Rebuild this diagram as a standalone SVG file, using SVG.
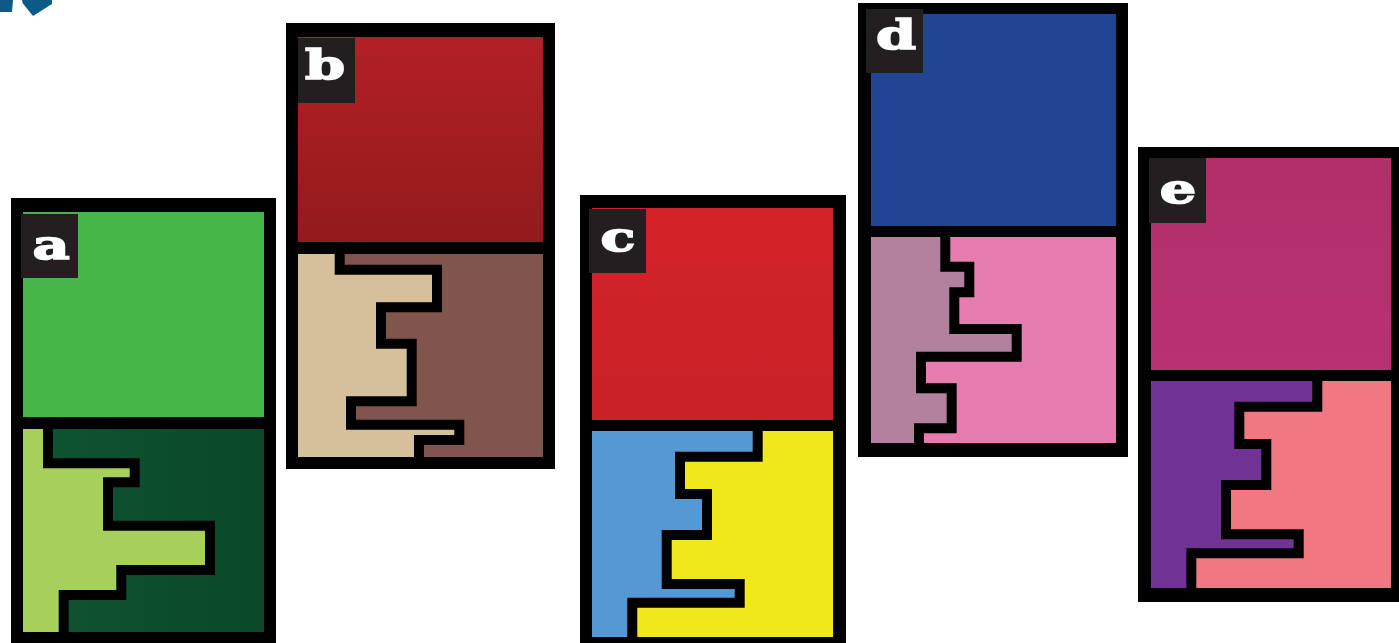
<svg xmlns="http://www.w3.org/2000/svg" width="1399" height="643" viewBox="0 0 1399 643">
  <defs>
    <style>
      .frame { fill: #000000; }
      .stair { fill: none; stroke: #000000; stroke-width: 10; stroke-linejoin: miter; stroke-linecap: butt; }
      .tag { fill: #231f20; }
      .letter { font-family: "DejaVu Serif", "Liberation Serif", serif; font-weight: bold; font-size: 41px; fill: #ffffff; stroke: #ffffff; stroke-width: 1.6; text-anchor: middle; }
    </style>
    <linearGradient id="gRedB" x1="0" y1="0" x2="0" y2="1">
      <stop offset="0" stop-color="#b22026"/>
      <stop offset="1" stop-color="#931a1e"/>
    </linearGradient>
    <linearGradient id="gDarkGreen" x1="0" y1="0" x2="1" y2="0">
      <stop offset="0" stop-color="#105434"/>
      <stop offset="1" stop-color="#0a4829"/>
    </linearGradient>
    <linearGradient id="gRedC" x1="0" y1="0" x2="0" y2="1">
      <stop offset="0" stop-color="#d32328"/>
      <stop offset="1" stop-color="#c92128"/>
    </linearGradient>
    <linearGradient id="gMag" x1="0" y1="0" x2="0" y2="1">
      <stop offset="0" stop-color="#b0306a"/>
      <stop offset="1" stop-color="#b93073"/>
    </linearGradient>
  </defs>

  <g id="corner-mark" fill="#0d5a86">
    <polygon points="0,0 13,0 12,12 0,12"/>
    <polygon points="22,0 52,0 52,4 33,16 22.7,3.3"/>
  </g>

  <g id="panel-a">
    <rect class="frame" x="11" y="198" width="265" height="450"/>
    <rect x="23" y="212" width="241" height="205" fill="#46b649"/>
    <rect x="23" y="429" width="241" height="203" fill="url(#gDarkGreen)"/>
    <polygon fill="#a6cf5c" points="23,429 48,429 48,463.3 134.7,463.3 134.7,482.3 108,482.3 108,525.7 210,525.7 210,570 121.3,570 121.3,595 63.7,595 63.7,632 23,632"/>
    <polyline class="stair" points="48,426 48,463.3 134.7,463.3 134.7,482.3 108,482.3 108,525.7 210,525.7 210,570 121.3,570 121.3,595 63.7,595 63.7,635"/>
    <rect class="tag" x="21" y="214" width="57" height="64"/>
    <text class="letter" transform="translate(51,259) scale(1.4,1)">a</text>
  </g>

  <g id="panel-b">
    <rect class="frame" x="286" y="23" width="269" height="446"/>
    <rect x="298" y="37" width="245" height="205" fill="url(#gRedB)"/>
    <rect x="298" y="254" width="245" height="203" fill="#80554d"/>
    <polygon fill="#d6c09b" points="298,254 339.7,254 339.7,269.7 437,269.7 437,307.3 381,307.3 381,343.7 411.7,343.7 411.7,401.3 351,401.3 351,424.7 459.3,424.7 459.3,440 419,440 419,457 298,457"/>
    <polyline class="stair" points="339.7,251 339.7,269.7 437,269.7 437,307.3 381,307.3 381,343.7 411.7,343.7 411.7,401.3 351,401.3 351,424.7 459.3,424.7 459.3,440 419,440 419,460"/>
    <rect class="tag" x="298" y="38" width="57" height="65"/>
    <text class="letter" transform="translate(325,79) scale(1.4,1)">b</text>
  </g>

  <g id="panel-c">
    <rect class="frame" x="580" y="195" width="266" height="450"/>
    <rect x="592" y="208" width="241" height="212" fill="url(#gRedC)"/>
    <rect x="592" y="431" width="241" height="206" fill="#f0e81a"/>
    <polygon fill="#5499d3" points="592,431 757.7,431 757.7,456.7 680,456.7 680,494 707,494 707,535 666.7,535 666.7,584 739.7,584 739.7,602.7 632.3,602.7 632.3,637 592,637"/>
    <polyline class="stair" points="757.7,428 757.7,456.7 680,456.7 680,494 707,494 707,535 666.7,535 666.7,584 739.7,584 739.7,602.7 632.3,602.7 632.3,640"/>
    <rect class="tag" x="589" y="209" width="57" height="64"/>
    <text class="letter" transform="translate(618,251) scale(1.4,1)">c</text>
  </g>

  <g id="panel-d">
    <rect class="frame" x="858" y="3" width="270" height="454"/>
    <rect x="871" y="14" width="245" height="212" fill="#214494"/>
    <rect x="871" y="237" width="245" height="206" fill="#e77daf"/>
    <polygon fill="#b1819e" points="871,237 945.3,237 945.3,266.7 969.3,266.7 969.3,292.3 954.3,292.3 954.3,329 1016.7,329 1016.7,356.7 921,356.7 921,388.3 951.7,388.3 951.7,428.3 919,428.3 919,443 871,443"/>
    <polyline class="stair" points="945.3,234 945.3,266.7 969.3,266.7 969.3,292.3 954.3,292.3 954.3,329 1016.7,329 1016.7,356.7 921,356.7 921,388.3 951.7,388.3 951.7,428.3 919,428.3 919,446"/>
    <rect class="tag" x="866" y="9" width="57" height="64"/>
    <text class="letter" transform="translate(896,49) scale(1.4,1)">d</text>
  </g>

  <g id="panel-e">
    <rect class="frame" x="1138" y="147" width="265" height="455"/>
    <rect x="1151" y="158" width="240" height="212" fill="url(#gMag)"/>
    <rect x="1151" y="381" width="240" height="207" fill="#f17883"/>
    <polygon fill="#703393" points="1151,381 1317.3,381 1317.3,406.7 1239.3,406.7 1239.3,444 1266.3,444 1266.3,485 1226,485 1226,534.3 1298.7,534.3 1298.7,553.3 1191.3,553.3 1191.3,588 1151,588"/>
    <polyline class="stair" points="1317.3,378 1317.3,406.7 1239.3,406.7 1239.3,444 1266.3,444 1266.3,485 1226,485 1226,534.3 1298.7,534.3 1298.7,553.3 1191.3,553.3 1191.3,591"/>
    <rect class="tag" x="1149" y="158" width="57" height="65"/>
    <text class="letter" transform="translate(1178,203) scale(1.4,1)">e</text>
  </g>
</svg>
